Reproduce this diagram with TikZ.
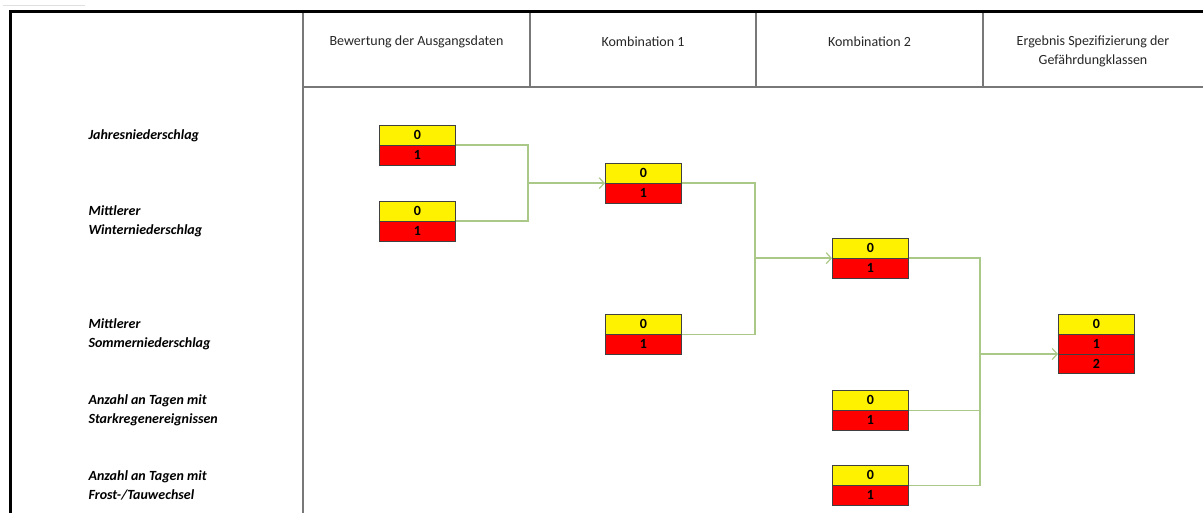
\documentclass[tikz,border=0pt]{standalone}
\usepackage{fontspec}
\setmainfont{Carlito}
\usetikzlibrary{positioning, shapes.multipart, arrows.meta}
\definecolor{linkgreen}{RGB}{170,200,135}
\definecolor{framegray}{RGB}{120,120,120}
\newcommand{\boundarycolor}{black!75}
\newcommand{\cell}[1]{\rule[-5pt]{0pt}{19pt}\textbf{#1}}

\begin{document}
\begin{tikzpicture}[x=1pt,y=-1pt,font=\fontsize{14}{19}\selectfont,
	box/.style={rectangle split, rectangle split parts=#1, draw=\boundarycolor, line width=0.8pt,
		rectangle split part fill={yellow,red,red}, text width=70pt, inner xsep=3pt, inner ysep=0pt,
		align=center, anchor=north west},
	link/.style={draw=linkgreen, line width=1.4pt},
	arr/.style={link, -{Straight Barb[length=5pt,width=11pt,line width=1.2pt]}},
	grid/.style={draw=framegray, line width=1.4pt},
	head/.style={text=black!85, align=center},
	lab/.style={anchor=west, align=left, font=\fontsize{14}{19}\selectfont\bfseries\itshape}]
	\useasboundingbox (0,0) rectangle (1203,513);
	%% table
	\draw[gray!25, line width=1pt] (3,6) -- (85,6);
	\draw[grid] (303,12) -- (303,513);
	\draw[grid] (303,87) -- (1203,87);
	\foreach \xx in {530,756,983} {
		\draw[grid] (\xx,12) -- (\xx,87);
	}
	\draw[black, line width=3pt] (10,513) -- (10,12) -- (1203,12);
	%%
	\node[head] (h1) at (416.5,42) {Bewertung der Ausgangsdaten};
	\node[head] (h2) at (643,42) {Kombination 1};
	\node[head] (h3) at (869.5,42) {Kombination 2};
	\node[head] (h4) at (1093,51) {Ergebnis Spezifizierung der\\Gefährdungklassen};
	%%
	\node[lab] (l1) at (85,136) {Jahresniederschlag};
	\node[lab] (l2) at (85,221) {Mittlerer\\Winterniederschlag};
	\node[lab] (l3) at (85,334) {Mittlerer\\Sommerniederschlag};
	\node[lab] (l4) at (85,410) {Anzahl an Tagen mit\\Starkregenereignissen};
	\node[lab] (l5) at (85,485) {Anzahl an Tagen mit\\Frost-/Tauwechsel};
	%% boxes
	\node[box=2] (a1) at (379,125) {\cell{0}\nodepart{two}\cell{1}};
	\node[box=2] (a2) at (379,201) {\cell{0}\nodepart{two}\cell{1}};
	\node[box=2] (b1) at (605,163) {\cell{0}\nodepart{two}\cell{1}};
	\node[box=2] (b2) at (605,314) {\cell{0}\nodepart{two}\cell{1}};
	\node[box=2] (c1) at (832,238) {\cell{0}\nodepart{two}\cell{1}};
	\node[box=2] (c2) at (832,390) {\cell{0}\nodepart{two}\cell{1}};
	\node[box=2] (c3) at (832,465) {\cell{0}\nodepart{two}\cell{1}};
	\node[box=3] (d1) at (1058,314) {\cell{0}\nodepart{two}\cell{1}\nodepart{three}\cell{2}};
	%% connectors
	\path (b1.text split west) ++(-77,0) coordinate (j1);
	\path (c1.text split west) ++(-77,0) coordinate (j2);
	\path (d1.two split west) ++(-78,0) coordinate (j3);
	\foreach \i in {a1,a2} {
		\draw[link] (\i.text split east) -| (j1);
	}
	\foreach \i in {b1,b2} {
		\draw[link] (\i.text split east) -| (j2);
	}
	\foreach \i in {c1,c2,c3} {
		\draw[link] (\i.text split east) -| (j3);
	}
	\draw[arr] (j1) -- (b1.text split west);
	\draw[arr] (j2) -- (c1.text split west);
	\draw[arr] (j3) -- (d1.two split west);
\end{tikzpicture}
\end{document}
